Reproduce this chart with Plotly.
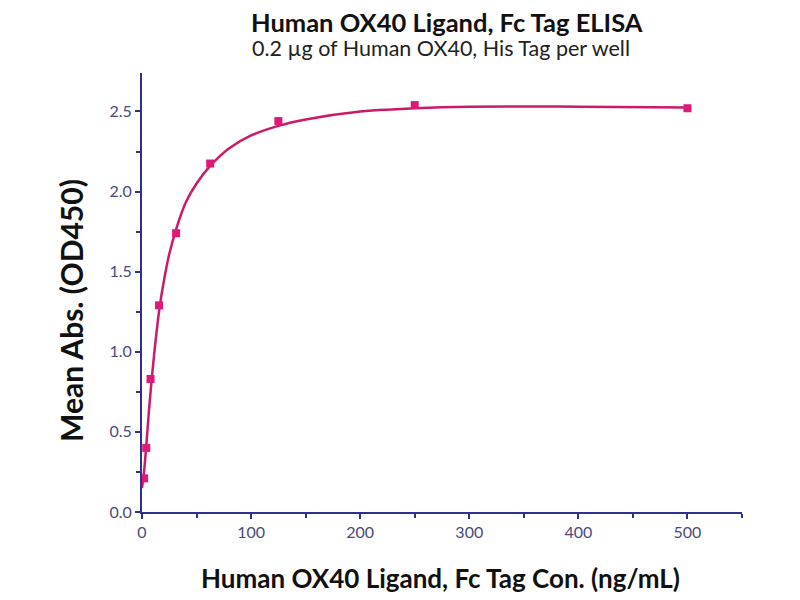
import plotly.graph_objects as go

# measured points
conc = [500, 250, 125, 62.5, 31.25, 15.63, 7.81, 3.91, 1.95]
od450 = [2.52, 2.54, 2.44, 2.175, 1.74, 1.29, 0.83, 0.40, 0.21]

# fitted curve
fit_x = [0, 1, 2, 4, 6, 8, 12, 16, 20, 25, 32, 40, 50, 62.5, 80, 100, 125, 150, 200, 250, 300, 400, 500]
fit_y = [0.15, 0.20, 0.26, 0.42, 0.60, 0.76, 1.04, 1.27, 1.44, 1.61, 1.78, 1.93, 2.05, 2.16, 2.27, 2.35, 2.41, 2.45, 2.50, 2.52, 2.53, 2.53, 2.525]

x_ticks = [0, 100, 200, 300, 400, 500]
y_ticks = [0.0, 0.5, 1.0, 1.5, 2.0, 2.5]

navy = "#2e3192"
pink = "#e0187a"
font = "Lato, 'Open Sans', sans-serif"

# figure sits 8px in from the page corner (body margin), so keep it inside the window
W, H = 792, 592
L, R, T, B = 134, 58, 65, 88

fig = go.Figure()
fig.add_trace(go.Scatter(x=fit_x, y=fit_y, mode="lines",
                         line=dict(color="#cc1a68", width=2.5, shape="spline"),
                         hoverinfo="skip"))
fig.add_trace(go.Scatter(x=conc, y=od450, mode="markers",
                         marker=dict(symbol="square", size=8, color=pink)))

axis_common = dict(showgrid=False, zeroline=False, showline=True, linecolor=navy, linewidth=2,
                   ticks="outside", tickcolor=navy, ticklen=5, tickwidth=2, automargin=False,
                   tickfont=dict(family=font, size=16, color="#4a4a7c"))

fig.update_layout(
    width=W, height=H, showlegend=False,
    paper_bgcolor="white", plot_bgcolor="white",
    margin=dict(l=L, r=R, t=T, b=B),
    font=dict(family=font),
    xaxis=dict(range=[0, 550], tickvals=x_ticks,
               minor=dict(dtick=50, ticks="outside", ticklen=4, tickcolor=navy, tickwidth=2),
               **axis_common),
    yaxis=dict(range=[0, 2.74], tickvals=y_ticks, tickformat=".1f",
               minor=dict(dtick=0.25, ticks="outside", ticklen=4, tickcolor=navy, tickwidth=2),
               **axis_common),
)


def px_note(text, x, y, size, angle=0, color="#111"):
    fig.add_annotation(text=text, xref="paper", yref="paper",
                       x=(x - L) / (W - L - R), y=(H - B - y) / (H - T - B),
                       xanchor="center", yanchor="middle", showarrow=False, textangle=angle,
                       font=dict(family=font, size=size, color=color))


px_note("<b>Human OX40 Ligand, Fc Tag ELISA</b>", 439, 14, 25.5)
px_note("0.2 µg of Human OX40, His Tag per well", 433, 40, 21.5, color="#222")
px_note("<b>Human OX40 Ligand, Fc Tag Con. (ng/mL)</b>", 432, 570, 26)
px_note("<b>Mean Abs. (OD450)</b>", 63, 303, 30, angle=-90)

fig.write_html("out.html")
